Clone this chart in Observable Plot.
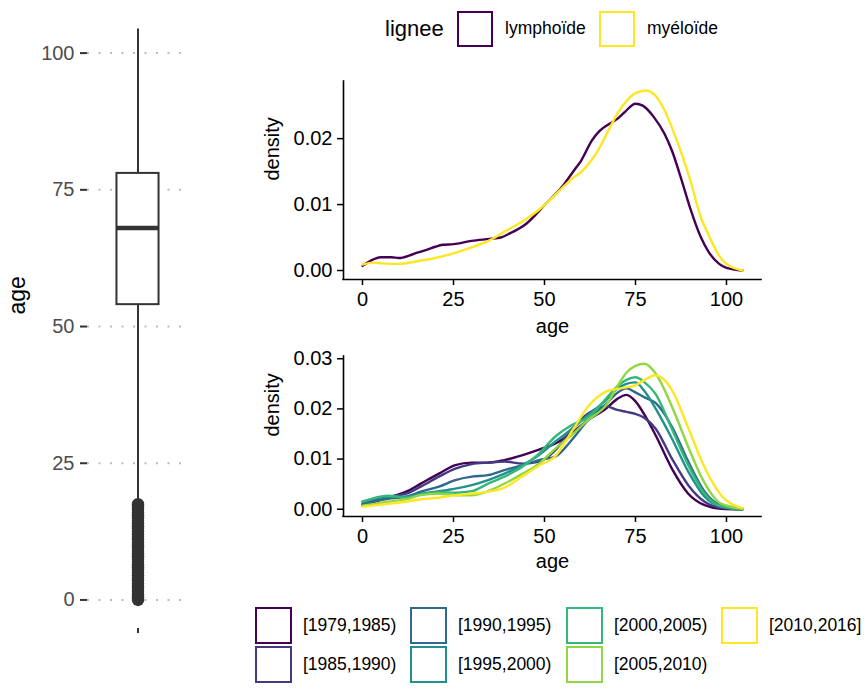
<!DOCTYPE html>
<html><head><meta charset="utf-8">
<script src="https://cdn.jsdelivr.net/npm/d3@7"></script>
<script src="https://cdn.jsdelivr.net/npm/@observablehq/plot@0.6"></script>
<style>
html,body{margin:0;padding:0;background:#fff;}
#root{position:relative;width:866px;height:688px;overflow:hidden;font-family:"Liberation Sans",Arial,Helvetica,sans-serif;color:#000;}
.panel{position:absolute;}
.key{position:absolute;box-sizing:border-box;border:2.5px solid;background:#fff;}
.lab{position:absolute;white-space:nowrap;display:flex;align-items:center;line-height:1;}
</style></head><body><div id="root"></div>
<script>
// ---------------- data ----------------
const boxAxisTicks = [0, 25, 50, 75, 100];
const boxQuartiles = [54, 68, 78];          // Q1, median, Q3
const boxWhiskers = [18, 104.4];            // lower, upper whisker ends
const boxOutliers = [0, 0.5, 1, 1.5, 2, 2.5, 3, 3.5, 4, 4.5, 5, 5.5, 6, 6.5, 7, 7.5, 8, 8.5, 9, 9.5,
                     10, 10.5, 11, 11.5, 12, 12.5, 13, 13.5, 14, 14.5, 15, 15.5, 16, 16.5, 17, 17.5];

const ageTicks = [0, 25, 50, 75, 100];
const topDensityTicks = [0, 0.01, 0.02];
const bottomDensityTicks = [0, 0.01, 0.02, 0.03];

const lignees = ["lymphoïde", "myéloïde"];
const lymphoAges = [0,3,5,8,10,13,15,18,20,22,25,30,35,38,40,45,50,55,58,60,63,65,68,70,72,75,77,80,83,85,88,90,93,95,98,100,104.4];
const lymphoDensity = [0.0007,0.0017,0.0020,0.0020,0.0019,0.0023,0.0027,0.0032,0.0036,0.0039,0.0040,0.0045,0.0048,0.0050,0.0055,0.0071,0.0099,0.0128,0.0151,0.0166,0.0197,0.0211,0.0223,0.0230,0.0240,0.0253,0.0250,0.0233,0.0207,0.0182,0.0131,0.0095,0.0050,0.0029,0.0010,0.0004,0.0000];
const myeloAges = [0,3,5,8,10,15,20,25,30,35,40,45,50,55,58,60,63,65,68,70,73,75,78,80,83,85,88,90,93,95,98,100,104.4];
const myeloDensity = [0.0009,0.0012,0.0011,0.0010,0.0010,0.0014,0.0019,0.0026,0.0035,0.0046,0.0062,0.0078,0.0099,0.0126,0.0141,0.0149,0.0168,0.0185,0.0217,0.0238,0.0260,0.0269,0.0273,0.0268,0.0243,0.0217,0.0172,0.0138,0.0080,0.0055,0.0022,0.0010,0.0000];

const periods = ["[1979,1985)", "[1985,1990)", "[1990,1995)", "[1995,2000)", "[2000,2005)", "[2005,2010)", "[2010,2016]"];
const periodAges = [0,7,12,16,21,25.5,30,34.5,39,44,48.5,53,57.5,62,67,70,72.5,75,77.5,80.5,85,89.5,94,98.5,104.4];
const dens1979 = [0.0008,0.0023,0.0035,0.0051,0.0071,0.0088,0.0093,0.0093,0.0098,0.0108,0.0119,0.0131,0.0152,0.0178,0.0201,0.0220,0.0228,0.0215,0.0188,0.0148,0.0081,0.0031,0.0008,0.0001,0.0000];
const dens1985 = [0.0010,0.0025,0.0031,0.0045,0.0065,0.0081,0.0090,0.0093,0.0095,0.0091,0.0095,0.0118,0.0160,0.0191,0.0205,0.0198,0.0194,0.0190,0.0182,0.0161,0.0101,0.0048,0.0015,0.0003,0.0000];
const dens1990 = [0.0011,0.0021,0.0025,0.0035,0.0045,0.0058,0.0065,0.0068,0.0078,0.0088,0.0098,0.0105,0.0138,0.0178,0.0210,0.0232,0.0241,0.0233,0.0223,0.0212,0.0165,0.0095,0.0035,0.0008,0.0001];
const dens1995 = [0.0015,0.0025,0.0025,0.0031,0.0036,0.0041,0.0048,0.0058,0.0071,0.0088,0.0108,0.0135,0.0160,0.0188,0.0218,0.0240,0.0250,0.0253,0.0235,0.0201,0.0141,0.0075,0.0025,0.0005,0.0000];
const dens2000 = [0.0015,0.0027,0.0023,0.0029,0.0034,0.0033,0.0036,0.0051,0.0065,0.0085,0.0111,0.0145,0.0168,0.0183,0.0221,0.0245,0.0258,0.0263,0.0253,0.0230,0.0160,0.0088,0.0031,0.0006,0.0000];
const dens2005 = [0.0007,0.0015,0.0020,0.0028,0.0031,0.0028,0.0028,0.0036,0.0051,0.0071,0.0091,0.0121,0.0148,0.0178,0.0208,0.0245,0.0272,0.0286,0.0290,0.0271,0.0205,0.0124,0.0052,0.0011,0.0001];
const dens2010 = [0.0005,0.0011,0.0015,0.0020,0.0023,0.0028,0.0031,0.0035,0.0043,0.0066,0.0087,0.0106,0.0155,0.0205,0.0235,0.0240,0.0243,0.0247,0.0258,0.0267,0.0238,0.0162,0.0083,0.0028,0.0002];
const periodDensities = [dens1979, dens1985, dens1990, dens1995, dens2000, dens2005, dens2010];

// ---------------- helpers ----------------
const FONT = '"Liberation Sans", Arial, Helvetica, sans-serif';
const expand = ([a, b]) => [a - (b - a) * 0.05, b + (b - a) * 0.05];
const root = document.getElementById("root");
function place(el, left, top) {
  const d = document.createElement("div");
  d.className = "panel";
  d.style.left = left + "px"; d.style.top = top + "px";
  d.appendChild(el); root.appendChild(d);
  return d;
}

// ---------------- box plot ----------------
const boxYDomain = expand([d3.min(boxOutliers), boxWhiskers[1]]);
const boxRow = [{q1: boxQuartiles[0], med: boxQuartiles[1], q3: boxQuartiles[2], lo: boxWhiskers[0], hi: boxWhiskers[1]}];
const boxPlot = Plot.plot({
  width: 200, height: 688,
  marginLeft: 87, marginRight: 12, marginTop: 0, marginBottom: 60,
  x: {domain: [0.4, 1.6]},
  y: {domain: boxYDomain},
  style: {fontFamily: FONT, overflow: "visible", background: "transparent"},
  marks: [
    Plot.gridY(boxAxisTicks, {stroke: "#bcbcbc", strokeOpacity: 1, strokeWidth: 2, strokeDasharray: "2,9.5"}),
    Plot.axisY(boxAxisTicks, {tickSize: 7, tickPadding: 6, fontSize: 20, fill: "#4d4d4d", stroke: "#333", strokeWidth: 2, label: null}),
    Plot.axisX([1], {tickSize: 5, tickFormat: () => "", stroke: "#333", strokeWidth: 2, label: null}),
    Plot.ruleX(boxRow, {x: () => 1, y1: "lo", y2: "q1", stroke: "#333", strokeWidth: 2}),
    Plot.ruleX(boxRow, {x: () => 1, y1: "q3", y2: "hi", stroke: "#333", strokeWidth: 2}),
    Plot.rect(boxRow, {x1: () => 0.75, x2: () => 1.25, y1: "q1", y2: "q3", fill: "white", stroke: "#333", strokeWidth: 2}),
    Plot.ruleY(boxRow, {y: "med", x1: () => 0.75, x2: () => 1.25, stroke: "#333", strokeWidth: 4.5}),
    Plot.dot(boxOutliers, {x: () => 1, y: d => d, r: 6.2, fill: "#333", stroke: null}),
    Plot.text(["age"], {text: d => d, frameAnchor: "left", rotate: -90, dx: -70, fontSize: 23, fill: "black"})
  ]
});
place(boxPlot, 0, 0);

// ---------------- density panels ----------------
function densityPanel(data, zKey, colorDomain, yTicks, opts) {
  const xDom = expand([0, d3.max(data, d => d.age)]);
  const yDom = expand([0, d3.max(data, d => d.density)]);
  return Plot.plot({
    width: 540, height: opts.height,
    marginLeft: 103, marginRight: 19, marginTop: opts.marginTop, marginBottom: opts.marginBottom,
    x: {domain: xDom},
    y: {domain: yDom},
    color: {type: "ordinal", domain: colorDomain, range: d3.quantize(d3.interpolateViridis, colorDomain.length)},
    style: {fontFamily: FONT, overflow: "visible", background: "transparent"},
    marks: [
      Plot.line(data, {x: "age", y: "density", z: zKey, stroke: zKey, strokeWidth: 2.4, curve: "monotone-x"}),
      Plot.ruleX([xDom[0]], {stroke: "black", strokeWidth: 1.6, strokeLinecap: "square"}),
      Plot.ruleY([yDom[0]], {stroke: "black", strokeWidth: 1.6, strokeLinecap: "square"}),
      Plot.axisX(ageTicks, {tickSize: 6, tickPadding: 6, fontSize: 20, fill: "black", stroke: "black", strokeWidth: 1.5, label: null}),
      Plot.axisY(yTicks, {tickSize: 6, tickPadding: 5, fontSize: 20, fill: "black", stroke: "black", strokeWidth: 1.5, tickFormat: d3.format(".2f"), label: null}),
      Plot.text(["age"], {text: d => d, frameAnchor: "bottom", lineAnchor: "top", dy: opts.titleDy, fontSize: 20, fill: "black"}),
      Plot.text(["density"], {text: d => d, frameAnchor: "left", rotate: -90, dx: -71, fontSize: 20, fill: "black"})
    ]
  });
}

const topData = [];
lymphoAges.forEach((a, i) => topData.push({lignee: lignees[0], age: a, density: lymphoDensity[i]}));
myeloAges.forEach((a, i) => topData.push({lignee: lignees[1], age: a, density: myeloDensity[i]}));
const topPlot = densityPanel(topData, "lignee", lignees, topDensityTicks, {height: 280, marginTop: 21, marginBottom: 61, titleDy: 39});
place(topPlot, 240, 60);

const bottomData = [];
periods.forEach((p, i) => periodAges.forEach((a, j) => bottomData.push({period: p, age: a, density: periodDensities[i][j]})));
const bottomPlot = densityPanel(bottomData, "period", periods, bottomDensityTicks, {height: 250, marginTop: 19, marginBottom: 71, titleDy: 37});
place(bottomPlot, 240, 337);

// ---------------- legends ----------------
const topColor = topPlot.scale("color");
const bottomColor = bottomPlot.scale("color");
function addText(txt, left, top, height, size) {
  const t = document.createElement("div");
  t.className = "lab";
  t.style.left = left + "px"; t.style.top = top + "px"; t.style.height = height + "px";
  t.style.fontSize = size + "px";
  t.textContent = txt;
  root.appendChild(t);
}
function addKey(color, left, top, size) {
  const k = document.createElement("div");
  k.className = "key";
  k.style.left = left + "px"; k.style.top = top + "px";
  k.style.width = size + "px"; k.style.height = size + "px";
  k.style.borderColor = color;
  root.appendChild(k);
}
// top legend
addText("lignee", 385, 11, 36, 22);
const topKeyX = [457, 599];
lignees.forEach((l, i) => {
  addKey(topColor.apply(l), topKeyX[i], 11, 36);
  addText(l, topKeyX[i] + 48, 11, 36, 17.5);
});
// bottom legend (filled by column, 2 rows)
const bKeyX = [255, 410, 566, 721];
const bKeyY = [607, 646];
periods.forEach((p, i) => {
  const col = Math.floor(i / 2), row = i % 2;
  addKey(bottomColor.apply(p), bKeyX[col], bKeyY[row], 37);
  addText(p, bKeyX[col] + 48, bKeyY[row], 37, 17.5);
});
</script></body></html>
